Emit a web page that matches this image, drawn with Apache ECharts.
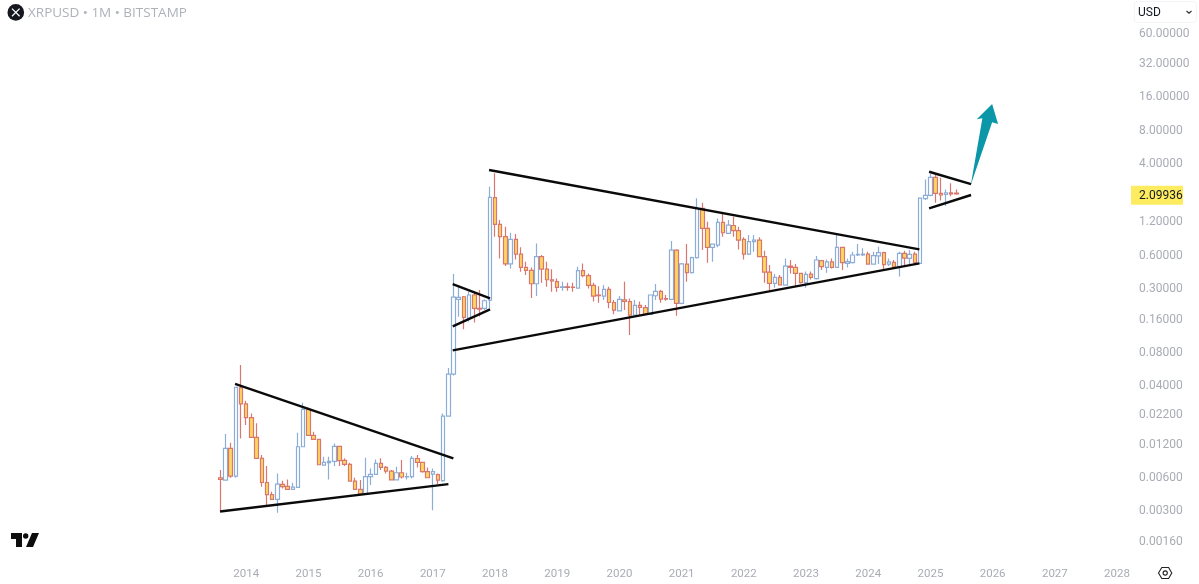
<!DOCTYPE html>
<html>
<head>
<meta charset="utf-8">
<style>
	html, body { margin: 0; padding: 0; background: #fff; }
	#myChart { width: 1199px; height: 584px; }
</style>
<script src="https://cdn.jsdelivr.net/npm/echarts@6/dist/echarts.min.js"></script>
</head>
<body>
<div id="myChart"></div>
<script>
// monthly candles, first one is 2013-08
var firstMonthIndex = 42;
var yearLabels = [2014, 2015, 2016, 2017, 2018, 2019, 2020, 2021, 2022, 2023, 2024, 2025, 2026, 2027, 2028];
var priceTicks = [60, 32, 16, 8, 4, 1.2, 0.6, 0.3, 0.16, 0.08, 0.04, 0.022, 0.012, 0.006, 0.003, 0.0016];
var lastClose = 2.09936;

var opens = [
	.00585,.00557,.01075,.00606,.0376,.0270,.0203,.0135,.00874,.0053,
	.00412,.00374,.0051,.00489,.0046,.00479,.01112,.0241,.0141,.01295,
	.00761,.00799,.0082,.0112,.00838,.00772,.00546,.0046,.00417,.00598,
	.00628,.00788,.00725,.00672,.0056,.00649,.00594,.00598,.00868,.00804,
	.00663,.00631,.00623,.0055,.021,.0501,.2358,.249,.159,.258,
	.196,.196,.2325,1.94,1.115,.864,.491,.817,.603,.457,
	.43,.326,.571,.442,.354,.34,.302,.306,.304,.298,
	.427,.385,.315,.258,.2525,.29,.221,.186,.234,.225,
	.1704,.208,.199,.173,.254,.278,.239,.236,.655,.217,
	.49,.41,.559,1.553,1.026,.693,.727,1.163,.925,1.09,
	.978,.818,.603,.779,.806,.571,.415,.328,.372,.317,
	.47,.457,.404,.333,.398,.363,.526,.457,.512,.457,
	.693,.497,.504,.591,.591,.603,.49,.58,.62,.49,
	.508,.46,.612,.551,.603,.497,1.90,2.036,2.954,2.12,
	2.08,2.147,2.13
];
var closes = [
	.00565,.01075,.00606,.0381,.027,.0203,.0135,.00874,.0053,.00412,
	.00374,.00513,.00486,.0046,.00482,.01112,.0241,.0141,.01295,.00766,
	.00804,.0082,.0112,.00833,.00772,.00546,.0046,.00417,.00598,.00628,
	.00788,.00725,.00672,.0056,.00649,.00594,.006,.00874,.00804,.00663,
	.00585,.00663,.00557,.021,.0501,.2474,.2458,.1624,.258,.1955,
	.193,.229,1.953,1.115,.864,.491,.817,.603,.457,.43,
	.326,.571,.442,.354,.345,.302,.306,.302,.302,.427,
	.385,.315,.2525,.254,.29,.221,.189,.236,.226,.1704,
	.208,.2,.173,.258,.278,.237,.237,.655,.217,.491,
	.41,.559,1.553,1.026,.693,.742,1.163,.938,1.10,.978,
	.806,.603,.779,.806,.571,.415,.328,.372,.319,.47,
	.457,.404,.333,.395,.372,.533,.464,.512,.457,.693,
	.504,.515,.591,.6,.603,.49,.583,.62,.484,.512,
	.46,.612,.555,.6,.504,1.92,2.036,2.954,2.12,2.05,
	2.147,2.10,2.09936
];
var lows = [
	.00289,.0055,.00585,.00585,.0132,.01745,.0135,.00874,.00486,.00321,
	.00374,.00283,.00469,.00453,.0046,.00479,.011,.0141,.01277,.00766,
	.00761,.00565,.00745,.00745,.00745,.00546,.0046,.00409,.00409,.00503,
	.00619,.00686,.0064,.00557,.00557,.00577,.00565,.00577,.00725,.00649,
	.00585,.00299,.00513,.00538,.0207,.0488,.1646,.127,.148,.146,
	.165,.189,.1955,.864,.551,.47,.448,.54,.418,.39,
	.242,.2525,.333,.306,.276,.276,.282,.282,.276,.294,
	.373,.296,.225,.22,.2325,.196,.173,.186,.189,.1126,
	.1704,.1704,.1704,.1704,.2325,.22,.229,.2325,.168,.213,
	.34,.404,.551,.655,.504,.515,.693,.864,.925,.864,
	.664,.54,.591,.633,.571,.333,.286,.30,.317,.317,
	.404,.31,.328,.30,.355,.355,.433,.41,.447,.457,
	.433,.457,.497,.58,.58,.49,.49,.49,.44,.47,
	.447,.378,.47,.48,.497,.497,1.85,2.0,1.75,1.825,
	1.63,2.0,2.065
];
var highs = [
	.00686,.01447,.01208,.0381,.0604,.0289,.0222,.01805,.00936,.00745,
	.00438,.0064,.0055,.00565,.00527,.0149,.0277,.0249,.0152,.01295,
	.00904,.00904,.01192,.01127,.00874,.00799,.00585,.00557,.00886,.0071,
	.00856,.00874,.00745,.00686,.00735,.00844,.00649,.00917,.00936,.00815,
	.00725,.0071,.0064,.0222,.057,.3985,.306,.2525,.276,.276,
	.286,.236,2.435,3.21,1.22,1.063,.938,.915,.693,.515,
	.457,.752,.591,.515,.439,.363,.34,.333,.333,.464,
	.497,.404,.333,.31,.317,.306,.2325,.2525,.34,.24,
	.2325,.225,.2096,.258,.324,.286,.258,.79,.665,.50,
	.742,.571,1.913,1.75,1.178,.752,1.262,1.38,1.22,1.307,
	1.063,.852,.894,.894,.852,.646,.48,.398,.39,.551,
	.533,.49,.41,.42,.42,.58,.533,.54,.551,.894,
	.693,.551,.633,.742,.679,.633,.633,.703,.633,.551,
	.533,.633,.646,.655,.633,1.95,2.83,3.17,3.10,2.93,
	2.3,2.62,2.3
];

// drawn trend lines: [month position, price] pairs
var trendLines = [
	[[45.34, 0.0410], [87.46, 0.00874]],
	[[42.45, 0.00291], [86.50, 0.00513]],
	[[87.34, 0.324], [94.54, 0.241]],
	[[87.34, 0.1348], [94.54, 0.1918]],
	[[87.34, 0.082], [177.37, 0.497]],
	[[94.35, 3.44], [177.37, 0.665]],
	[[179.24, 3.32], [187.34, 2.573]],
	[[179.24, 1.555], [187.34, 2.05]]
];
var arrowPoints = [
	[187.28, 2.52], [189.52, 10.04], [188.44, 9.83],
	[191.40, 13.49], [192.55, 8.92], [191.40, 9.24]
];

var monthCount = 218;
var months = [];
for (var m = 0; m < monthCount; m++) {
	var total = 2010 * 12 + 1 + m;
	months.push(Math.floor(total / 12) + "-" + ("0" + (total % 12 + 1)).slice(-2));
}

var candleRows = [];
for (var i = 0; i < firstMonthIndex; i++) {
	candleRows.push(["-", "-", "-", "-"]);
}
for (var j = 0; j < opens.length; j++) {
	candleRows.push([opens[j], closes[j], lows[j], highs[j]]);
}

var seriesList = [{
	type : "candlestick",
	data : candleRows,
	barWidth : 4,
	z : 2,
	itemStyle : {
		color : "#ffffff",
		color0 : "#ffd75e",
		borderColor : "#8caed6",
		borderColor0 : "#d9776f",
		borderWidth : 1.2
	}
}];

for (var t = 0; t < trendLines.length; t++) {
	seriesList.push({
		type : "line",
		xAxisIndex : 1,
		data : trendLines[t],
		showSymbol : false,
		silent : true,
		z : 5,
		lineStyle : { color : "#0a0a0a", width : 2.4 }
	});
}

seriesList.push({
	type : "custom",
	xAxisIndex : 1,
	data : arrowPoints,
	silent : true,
	z : 6,
	renderItem : function(params, api) {
		if (params.dataIndex !== 0) {
			return null;
		}
		var pts = [];
		for (var k = 0; k < arrowPoints.length; k++) {
			pts.push(api.coord(arrowPoints[k]));
		}
		return { type : "polygon", shape : { points : pts }, style : { fill : "#0b97a8" } };
	}
});

// yellow tag with the last price, sits on the price scale
seriesList.push({
	type : "custom",
	xAxisIndex : 1,
	data : [[monthCount, lastClose]],
	silent : true,
	z : 7,
	renderItem : function(params, api) {
		var p = api.coord([monthCount, lastClose]);
		return {
			type : "group",
			children : [ {
				type : "rect",
				shape : { x : p[0] + 1, y : p[1] - 8, width : 52, height : 19, r : 1 },
				style : { fill : "#fdeb60" }
			}, {
				type : "text",
				style : {
					text : lastClose.toFixed(5),
					x : p[0] + 9,
					y : p[1] + 2,
					fill : "#131722",
					font : "12px Roboto",
					verticalAlign : "middle"
				}
			} ]
		};
	}
});

var graphicList = [
	{ type : "circle", shape : { cx : 15.8, cy : 12.4, r : 8.3 }, style : { fill : "#15181f" } },
	{ type : "polyline", shape : { points : [[12, 8.6], [15.8, 12.4], [19.6, 8.6]] },
		style : { fill : null, stroke : "#fff", lineWidth : 1.3 } },
	{ type : "polyline", shape : { points : [[12, 16.2], [15.8, 12.4], [19.6, 16.2]] },
		style : { fill : null, stroke : "#fff", lineWidth : 1.3 } },
	{ type : "text", x : 28, y : 13, style : { text : "XRPUSD \u2022 1M \u2022 BITSTAMP",
		fill : "#afb2bb", font : "13.5px 'Open Sans'", verticalAlign : "middle" } },
	{ type : "polygon", shape : { points : [[11, 533], [22, 533], [22, 547], [16, 547], [16, 539], [11, 539]] },
		style : { fill : "#0d0d0d" } },
	{ type : "circle", shape : { cx : 25.7, cy : 536, r : 2.7 }, style : { fill : "#0d0d0d" } },
	{ type : "polygon", shape : { points : [[32, 533], [39, 533], [33, 547], [26, 547]] },
		style : { fill : "#0d0d0d" } },
	{ type : "rect", shape : { x : 1134.5, y : 1.5, width : 62, height : 21, r : 3 },
		style : { fill : "#fff", stroke : "#f3f4f6", lineWidth : 1 } },
	{ type : "text", x : 1138, y : 12.5, style : { text : "USD", fill : "#131722",
		font : "12px Roboto", verticalAlign : "middle" } },
	{ type : "polyline", shape : { points : [[1186.5, 11], [1189, 13.2], [1191.5, 11]] },
		style : { fill : null, stroke : "#333", lineWidth : 1.2 } },
	{ type : "polygon", shape : { points : [[1158.5, 573], [1161.8, 567.5], [1168.6, 567.5], [1171.8, 573], [1168.6, 578.5], [1161.8, 578.5]] },
		style : { fill : null, stroke : "#222", lineWidth : 1.1 } },
	{ type : "circle", shape : { cx : 1165.2, cy : 573, r : 2.1 }, style : { fill : null, stroke : "#222", lineWidth : 1.1 } }
];

var myChart = echarts.init(document.getElementById("myChart"));
myChart.setOption({
	animation : false,
	backgroundColor : "#ffffff",
	grid : { left : 0, top : 0, width : 1130, height : 555 },
	graphic : graphicList,
	xAxis : [ {
		type : "category",
		data : months,
		boundaryGap : true,
		axisLine : { show : false },
		axisTick : { show : false },
		splitLine : { show : false },
		axisLabel : {
			color : "#a9acb5",
			fontFamily : "Roboto",
			fontSize : 11.5,
			margin : 13,
			interval : function(index, value) {
				return yearLabels.indexOf(parseInt(value, 10)) >= 0 && value.slice(-2) === "01";
			},
			formatter : function(value) {
				return value.slice(0, 4);
			}
		}
	}, {
		type : "value",
		min : 0,
		max : monthCount,
		show : false
	} ],
	yAxis : {
		type : "log",
		logBase : 2,
		position : "right",
		min : 0.00118,
		max : 116.6,
		axisLine : { show : false },
		axisTick : { show : false },
		splitLine : { show : false },
		axisLabel : {
			customValues : priceTicks,
			color : "#a9acb5",
			fontFamily : "Roboto",
			fontSize : 12,
			margin : 9,
			align : "left",
			verticalAlign : "top",
			lineHeight : 3,
			formatter : function(value) {
				return Number(value).toFixed(5);
			}
		}
	},
	series : seriesList
});
</script>
</body>
</html>
